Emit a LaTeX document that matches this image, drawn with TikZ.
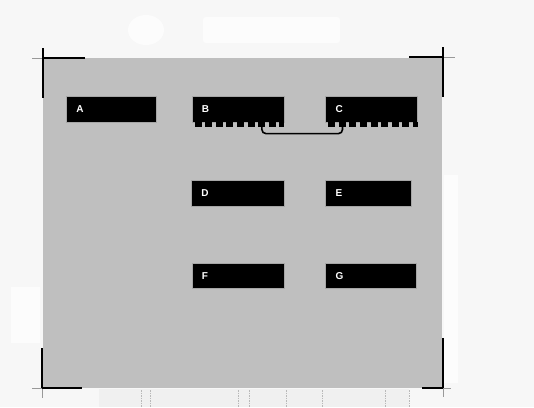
\documentclass[tikz,border=0pt]{standalone}
\usepackage{fontspec}
\setsansfont{Liberation Sans}
\usetikzlibrary{positioning}
\definecolor{paper}{RGB}{247,247,247}
\definecolor{panelgray}{RGB}{191,191,191}

\begin{document}
\begin{tikzpicture}[x=1pt, y=-1pt,
    node distance=36pt,
    unit/.style={rectangle, draw=gray!70, line width=0.6pt, fill=black, text=white, font=\sffamily\bfseries\fontsize{10}{12}\selectfont, text width=72pt, inner xsep=10pt, align=left, minimum height=26pt},
    pins/.style={line width=5pt, dash pattern=on 7pt off 3.6pt, dash phase=7.6pt},
    wire/.style={line width=1.6pt, rounded corners=4pt},
    cropmark/.style={line width=1.6pt},
    cropext/.style={line width=0.8pt, gray!80}
]

% Paper and panel
\fill[paper] (0,0) rectangle (534,407);
\fill[white!60!paper] (146,30) ellipse [x radius=18pt, y radius=15pt];
\fill[white!60!paper, rounded corners=3pt] (203,17) rectangle (340,43);
\fill[white!60!paper] (11,287) rectangle (40,343);
\fill[white!60!paper] (444,175) rectangle (458,383);
\fill[panelgray] (42.5,58) rectangle (441.5,388);

% Scan strip below the panel
\fill[gray!12] (99,389) rectangle (409,407);
\foreach \x in {141,150,238,249,286,322,385,409}
    \draw[gray!55, line width=0.8pt, dash pattern=on 1.5pt off 1pt] (\x,390) -- (\x,407);

% Units
\node[unit, text width=70pt, anchor=north west] (A) at (66,96) {A};
\node[unit, right=35pt of A] (B) {B};
\node[unit, right=41pt of B] (C) {C};
\node[unit, text width=73pt, below=57pt of B] (D) {D};
\node[unit, text width=66pt, below=57pt of C.south west, anchor=north west] (E) {E};
\node[unit, minimum height=25pt, below=57pt of D] (F) {F};
\node[unit, text width=71pt, minimum height=25pt, below=57pt of E.south west, anchor=north west] (G) {G};

% Pins
\draw[pins] ([yshift=-1.9pt]B.south west) -- ([yshift=-1.9pt]B.south east);
\draw[pins] ([yshift=-1.9pt]C.south west) -- ([yshift=-1.9pt]C.south east);

% Link B - C
\draw[wire] ([xshift=24pt]B.south) -- ++(0,11) -| ([xshift=-29pt]C.south);

% Crop marks
\draw[cropext] (32,58) -- (43,58);
\draw[cropmark] (43,58) -- (85,58);
\draw[cropmark] (43,48) -- (43,98);
\draw[cropmark] (409,57) -- (443,57);
\draw[cropext] (443,57) -- (455,57);
\draw[cropmark] (443,47) -- (443,97);
\draw[cropmark] (443,338) -- (443,388);
\draw[cropext] (443,388) -- (443,397);
\draw[cropmark] (422,388) -- (443,388);
\draw[cropext] (443,388) -- (451,388);
\draw[cropmark] (42,348) -- (42,388);
\draw[cropext] (42,388) -- (42,398);
\draw[cropext] (32,388) -- (42,388);
\draw[cropmark] (42,388) -- (82,388);

\end{tikzpicture}
\end{document}
